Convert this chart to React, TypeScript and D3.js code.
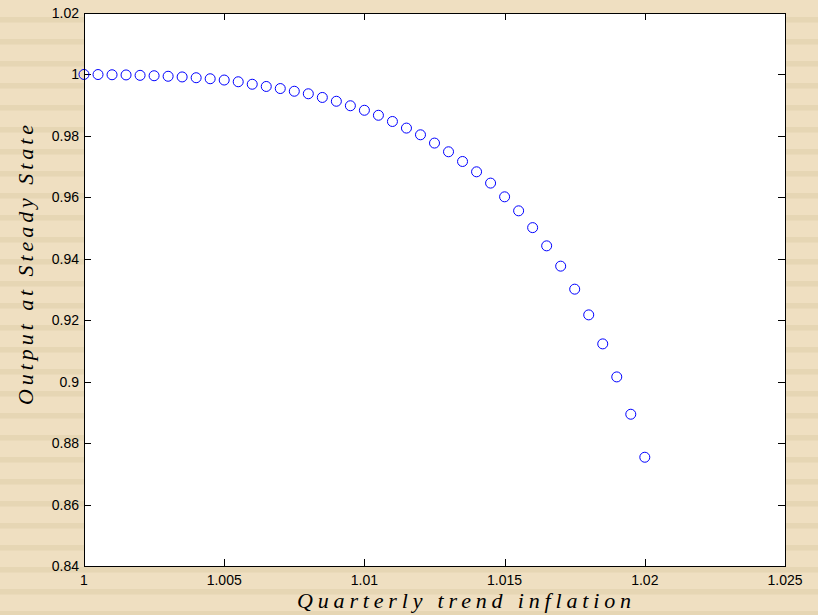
import React, { useEffect, useRef } from "react";
import * as d3 from "d3";

// quarterly trend inflation (gross) and steady state output
const inflation = d3.range(0, 41).map((i) => 1 + i * 0.0005);
const output = [
  1.0, 0.99997, 0.9999, 0.99984, 0.99971, 0.99958, 0.99941, 0.99919, 0.99893,
  0.9986, 0.99818, 0.99762, 0.99681, 0.99609, 0.99541, 0.99453, 0.99371,
  0.99251, 0.99127, 0.98981, 0.98834, 0.98671, 0.98469, 0.98254, 0.98036,
  0.97766, 0.97483, 0.97167, 0.96831, 0.96463, 0.96017, 0.95561, 0.95014,
  0.94421, 0.9376, 0.93011, 0.92174, 0.9123, 0.90155, 0.8894, 0.8754,
];
const xTicks = [1, 1.005, 1.01, 1.015, 1.02, 1.025];
const xTickLabels = ["1", "1.005", "1.01", "1.015", "1.02", "1.025"];
const yTicks = [0.84, 0.86, 0.88, 0.9, 0.92, 0.94, 0.96, 0.98, 1, 1.02];
const yTickLabels = ["0.84", "0.86", "0.88", "0.9", "0.92", "0.94", "0.96", "0.98", "1", "1.02"];

export default function App() {
  const svgRef = useRef(null);
  const width = 818;
  const height = 615;
  const margin = { top: 13, right: 33, bottom: 49, left: 84 };

  useEffect(() => {
    const svg = d3.select(svgRef.current);
    svg.selectAll("*").remove();

    // striped figure background
    svg
      .append("rect")
      .attr("width", width)
      .attr("height", height)
      .attr("fill", "#EFDFC1");
    svg
      .append("g")
      .selectAll("rect")
      .data(d3.range(0, 28))
      .join("rect")
      .attr("x", 0)
      .attr("y", (d) => 17 + d * 22)
      .attr("width", width)
      .attr("height", 5.5)
      .attr("fill", "#E6D6B4");

    const x = d3
      .scaleLinear()
      .domain([1, 1.025])
      .range([margin.left, width - margin.right]);
    const y = d3
      .scaleLinear()
      .domain([0.84, 1.02])
      .range([height - margin.bottom, margin.top]);

    const x0 = x.range()[0],
      x1 = x.range()[1],
      y0 = y.range()[0],
      y1 = y.range()[1];

    svg
      .append("rect")
      .attr("x", x0)
      .attr("y", y1)
      .attr("width", x1 - x0)
      .attr("height", y0 - y1)
      .attr("fill", "white");

    const tickLen = 7;
    const ticks = svg.append("g").attr("stroke", "#000").attr("stroke-width", 1);
    xTicks.forEach((t) => {
      const px = Math.round(x(t)) + 0.5;
      ticks.append("line").attr("x1", px).attr("x2", px).attr("y1", y0).attr("y2", y0 - tickLen);
      ticks.append("line").attr("x1", px).attr("x2", px).attr("y1", y1).attr("y2", y1 + tickLen);
    });
    yTicks.forEach((t) => {
      const py = Math.round(y(t)) + 0.5;
      ticks.append("line").attr("x1", x0).attr("x2", x0 + tickLen).attr("y1", py).attr("y2", py);
      ticks.append("line").attr("x1", x1).attr("x2", x1 - tickLen).attr("y1", py).attr("y2", py);
    });

    // tick labels
    svg
      .append("g")
      .selectAll("text")
      .data(xTicks)
      .join("text")
      .attr("x", (d) => x(d))
      .attr("y", y0 + 19)
      .attr("text-anchor", "middle")
      .attr("font-family", "Liberation Sans, Arial, sans-serif")
      .attr("font-size", 14)
      .attr("fill", "#000")
      .text((d, i) => xTickLabels[i]);
    svg
      .append("g")
      .selectAll("text")
      .data(yTicks)
      .join("text")
      .attr("x", x0 - 5)
      .attr("y", (d) => y(d) + 5)
      .attr("text-anchor", "end")
      .attr("font-family", "Liberation Sans, Arial, sans-serif")
      .attr("font-size", 14)
      .attr("fill", "#000")
      .text((d, i) => yTickLabels[i]);

    // markers
    svg
      .append("g")
      .selectAll("circle")
      .data(inflation.map((v, i) => [v, output[i]]))
      .join("circle")
      .attr("cx", (d) => x(d[0]))
      .attr("cy", (d) => y(d[1]))
      .attr("r", 5)
      .attr("fill", "none")
      .attr("stroke", "#0000FF")
      .attr("stroke-width", 1);

    // axes box
    svg
      .append("rect")
      .attr("x", x0 + 0.5)
      .attr("y", y1 + 0.5)
      .attr("width", x1 - x0)
      .attr("height", y0 - y1)
      .attr("fill", "none")
      .attr("stroke", "#000")
      .attr("stroke-width", 1);

    // axis labels (latex math italic look)
    svg
      .append("text")
      .attr("x", 297)
      .attr("y", 608)
      .attr("textLength", 334)
      .attr("lengthAdjust", "spacing")
      .attr("font-family", "Liberation Serif, Times New Roman, serif")
      .attr("font-style", "italic")
      .attr("font-size", 22)
      .attr("fill", "#000")
      .text("Quarterly trend inflation");
    svg
      .append("text")
      .attr("transform", "translate(33,405) rotate(-90)")
      .attr("textLength", 280)
      .attr("lengthAdjust", "spacing")
      .attr("font-family", "Liberation Serif, Times New Roman, serif")
      .attr("font-style", "italic")
      .attr("font-size", 22)
      .attr("fill", "#000")
      .text("Output at Steady State");
  }, []);

  return (
    <svg
      ref={svgRef}
      width={width}
      height={height}
      style={{ position: "absolute", left: 0, top: 0 }}
    />
  );
}
